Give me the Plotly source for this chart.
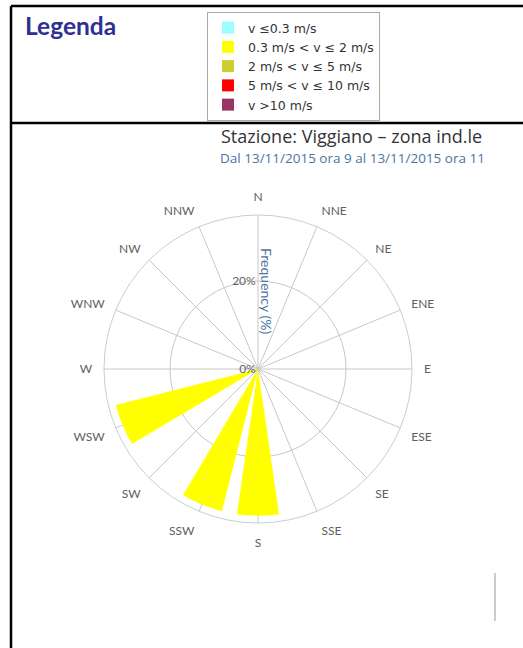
import plotly.graph_objects as go

W, H = 523, 648

directions = ["N", "NNE", "NE", "ENE", "E", "ESE", "SE", "SSE",
              "S", "SSW", "SW", "WSW", "W", "WNW", "NW", "NNW"]
angles = [0, 22.5, 45, 67.5, 90, 112.5, 135, 157.5,
          180, 202.5, 225, 247.5, 270, 292.5, 315, 337.5]

class_names = ["v ≤0.3 m/s", "0.3 m/s < v ≤ 2 m/s", "2 m/s < v ≤ 5 m/s",
               "5 m/s < v ≤ 10 m/s", "v >10 m/s"]
class_colors = ["#99ffff", "#ffff00", "#cccc33", "#ff0000", "#993366"]

freq_calm = [0, 0, 0, 0, 0, 0, 0, 0, 0, 0, 0, 0, 0, 0, 0, 0]
freq_03_2 = [0, 0, 0, 0, 0, 0, 0, 0, 33.33, 33.33, 0, 33.33, 0, 0, 0, 0]
freq_2_5 = [0, 0, 0, 0, 0, 0, 0, 0, 0, 0, 0, 0, 0, 0, 0, 0]
freq_5_10 = [0, 0, 0, 0, 0, 0, 0, 0, 0, 0, 0, 0, 0, 0, 0, 0]
freq_10 = [0, 0, 0, 0, 0, 0, 0, 0, 0, 0, 0, 0, 0, 0, 0, 0]
series = [freq_calm, freq_03_2, freq_2_5, freq_5_10, freq_10]

radial_ticks = [0, 20]
radial_labels = ["0%", "20%"]
radial_max = 35

fig = go.Figure()
for name, color, vals in zip(class_names, class_colors, series):
    fig.add_trace(go.Barpolar(
        r=vals, theta=angles, name=name, width=16.5,
        marker=dict(color=color, line=dict(width=0)),
        showlegend=True,
    ))

cx, cy, R = 258, 369, 154
fig.update_layout(
    width=W, height=H,
    margin=dict(l=0, r=0, t=0, b=0),
    paper_bgcolor="white",
    plot_bgcolor="white",
    font=dict(family="Lato, sans-serif", color="#606060"),
    polar=dict(
        domain=dict(x=[(cx - R) / W, (cx + R) / W],
                    y=[(H - cy - R) / H, (H - cy + R) / H]),
        bgcolor="white",
        angularaxis=dict(
            direction="clockwise", rotation=90,
            tickmode="array", tickvals=angles, ticktext=directions,
            showgrid=True, gridcolor="#c8c8c8", gridwidth=1,
            showline=True, linecolor="#c0d0e0", linewidth=1,
            ticks="outside", ticklen=9, tickcolor="rgba(0,0,0,0)",
            tickfont=dict(family="Lato, sans-serif", size=12, color="#606060"),
        ),
        radialaxis=dict(
            range=[0, radial_max], angle=90, side="counterclockwise",
            tickmode="array", tickvals=radial_ticks, ticktext=radial_labels,
            tickangle=90,
            showgrid=True, gridcolor="#c8c8c8", gridwidth=1,
            showline=False, ticks="",
            tickfont=dict(family="Lato, sans-serif", size=12, color="#606060"),
        ),
    ),
    legend=dict(
        x=207 / W, y=1 - 12 / H, xanchor="left", yanchor="top",
        bgcolor="white", bordercolor="#a8a8a8", borderwidth=1,
        font=dict(family="DejaVu Sans, sans-serif", size=12.5, color="#333333"),
        traceorder="normal", itemclick=False,
    ),
)

# Titles and labels
fig.add_annotation(text="Legenda", x=23 / W, y=1 - 9 / H, xref="paper", yref="paper",
                   xanchor="left", yanchor="top", showarrow=False,
                   font=dict(family="Lato, sans-serif", size=24.5, color="#2e3192", weight="bold"))
fig.add_annotation(text="Stazione: Viggiano – zona ind.le", x=351 / W, y=1 - 136 / H,
                   xref="paper", yref="paper", xanchor="center", yanchor="middle",
                   showarrow=False,
                   font=dict(family="Open Sans, sans-serif", size=18, color="#333333"))
fig.add_annotation(text="Dal 13/11/2015 ora 9 al 13/11/2015 ora 11", x=352 / W, y=1 - 157.5 / H,
                   xref="paper", yref="paper", xanchor="center", yanchor="middle",
                   showarrow=False,
                   font=dict(family="Open Sans, sans-serif", size=13.5, color="#4d759e"))
fig.add_annotation(text="Frequency (%)", x=267 / W, y=1 - 291 / H,
                   xref="paper", yref="paper", xanchor="center", yanchor="middle",
                   showarrow=False, textangle=90,
                   font=dict(family="Lato, sans-serif", size=14, color="#4d759e"))

# Frame lines
line_k = dict(color="black", width=2.5)
fig.add_shape(type="line", xref="paper", yref="paper", x0=11 / W, x1=1, y0=1 - 6 / H, y1=1 - 6 / H, line=line_k)
fig.add_shape(type="line", xref="paper", yref="paper", x0=11 / W, x1=1, y0=1 - 123 / H, y1=1 - 123 / H, line=line_k)
fig.add_shape(type="line", xref="paper", yref="paper", x0=11 / W, x1=11 / W, y0=0, y1=1 - 6 / H, line=line_k)
fig.add_shape(type="line", xref="paper", yref="paper", x0=495 / W, x1=495 / W,
              y0=1 - 573 / H, y1=1 - 621 / H, line=dict(color="#cccccc", width=2))

fig.write_html("out.html", config={"displayModeBar": False},
               post_script="document.body.style.margin='0';document.body.style.overflow='hidden';")
